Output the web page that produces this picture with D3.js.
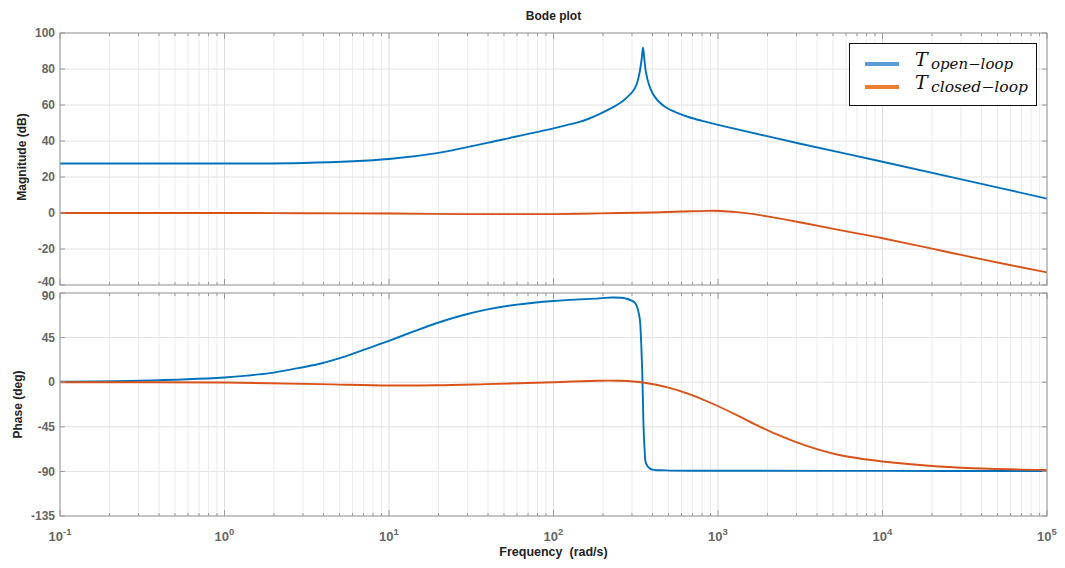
<!DOCTYPE html>
<html>
<head>
<meta charset="utf-8">
<script src="https://cdn.jsdelivr.net/npm/d3@7"></script>
<style>
  html, body { margin: 0; padding: 0; background: #fff; }
  svg { display: block; }
</style>
</head>
<body>
<svg id="chart" width="1065" height="568"></svg>
<script>
// ---------------- DATA ----------------
const title = "Bode plot";
const xLabel = "Frequency  (rad/s)";
const magLabel = "Magnitude (dB)";
const phaseLabel = "Phase (deg)";
const seriesNames = ["open\u2212loop", "closed\u2212loop"];

const xDecades = [-1, 0, 1, 2, 3, 4, 5];
const magTicks = [-40, -20, 0, 20, 40, 60, 80, 100];
const phaseTicks = [-135, -90, -45, 0, 45, 90];

// Open-loop magnitude (dB)
const wMagOpen = [0.1, 0.3, 1, 3, 10, 20, 50, 100, 120, 144, 165, 190, 220, 251, 274, 303, 320, 332, 343, 350, 357, 365, 380, 400, 430, 483, 560, 668, 800, 1000, 3162, 10000, 31623, 100000];
const magOpen  = [27.5, 27.5, 27.5, 27.8, 30.0, 33.4, 41.0, 47.0, 48.8, 50.6, 52.5, 54.9, 57.8, 60.8, 63.5, 67.5, 71.5, 77, 85, 92, 85, 78, 71.5, 66.5, 62.5, 58.6, 55.8, 53.2, 51.2, 49, 38.5, 28.5, 18.3, 8];

// Closed-loop magnitude (dB)
const wMagClosed = [0.1, 1, 3, 10, 30, 100, 190, 400, 600, 850, 1050, 1300, 1600, 2000, 2490, 3500, 4940, 7000, 10000, 20000, 40400, 100000];
const magClosed  = [0, 0, -0.1, -0.3, -0.6, -0.6, -0.2, 0.3, 0.8, 1.2, 1.15, 0.5, -0.5, -1.9, -3.4, -6.0, -8.7, -11.3, -14.0, -19.8, -25.8, -33];

// Open-loop phase (deg)
const wPhOpen = [0.1, 0.3, 1, 1.4, 1.88, 2.6, 3.8, 4.8, 6, 8, 10, 14, 19.4, 27, 39, 60, 100, 190, 230, 274, 313, 333, 340, 347, 352, 358, 365, 387, 483, 1000, 10000, 100000];
const phOpen  = [0.5, 1.5, 4.8, 6.8, 9.2, 13.2, 18.6, 23.2, 28.6, 36, 41.8, 51, 59.5, 66.8, 73.2, 78.3, 82, 84.6, 85.5, 84.5, 80, 66, 45, 5, -40, -68, -82, -87.5, -89, -89.3, -89.5, -89.7];

// Closed-loop phase (deg)
const wPhClosed = [0.1, 1, 3.8, 10, 19.4, 39, 100, 190, 250, 350, 500, 668, 935, 1330, 1800, 2500, 3420, 5460, 10000, 22000, 44400, 100000];
const phClosed  = [0, -0.3, -1.9, -3.3, -3.1, -1.9, 0, 1.5, 1.4, -0.3, -5.5, -12, -22, -34, -45, -55.5, -64, -73.5, -80, -85, -87.3, -88.5];

// ---------------- LAYOUT ----------------
const svg = d3.select("#chart");
const L = 60, R = 1047;
const magTop = 33, magBot = 285;
const phTop = 293, phBot = 516;
const colOpen = "#0072BD", colClosed = "#D95319";
const legOpen = "#5B9BD5", legClosed = "#ED7D31";
const frameCol = "#9a9a9a";
const tickFont = "'Liberation Sans', Arial, sans-serif";

const x = d3.scaleLog().domain([0.1, 1e5]).range([L, R]);
const yMag = d3.scaleLinear().domain([-40, 100]).range([magBot, magTop]);
const yPh = d3.scaleLinear().domain([-135, 90]).range([phBot, phTop]);

const minorVals = [];
for (const d of xDecades.slice(0, -1)) {
  for (let k = 2; k <= 9; k++) minorVals.push(k * Math.pow(10, d));
}
const majorVals = xDecades.map(d => Math.pow(10, d));

function panel(y, top, bot, ticks, data, labelShift) {
  const g = svg.append("g");
  g.selectAll(null).data(minorVals).enter().append("line")
    .attr("x1", d => x(d)).attr("x2", d => x(d))
    .attr("y1", top).attr("y2", bot)
    .attr("stroke", "#ececec").attr("stroke-width", 1);
  g.selectAll(null).data(majorVals).enter().append("line")
    .attr("x1", d => x(d)).attr("x2", d => x(d))
    .attr("y1", top).attr("y2", bot)
    .attr("stroke", "#dedede").attr("stroke-width", 1);
  g.selectAll(null).data(ticks).enter().append("line")
    .attr("x1", L).attr("x2", R)
    .attr("y1", d => y(d)).attr("y2", d => y(d))
    .attr("stroke", "#e2e2e2").attr("stroke-width", 1);

  const clipId = "clip" + top;
  svg.append("clipPath").attr("id", clipId).append("rect")
    .attr("x", L).attr("y", top).attr("width", R - L).attr("height", bot - top);
  const line = d3.line().x(p => x(p[0])).y(p => y(p[1])).curve(d3.curveCatmullRom.alpha(0.5));
  data.forEach(s => {
    g.append("path")
      .attr("d", line(s.w.map((w, i) => [w, s.v[i]])))
      .attr("fill", "none").attr("stroke", s.color).attr("stroke-width", 1.9)
      .attr("stroke-linejoin", "round")
      .attr("clip-path", `url(#${clipId})`);
  });

  const tk = (vals, len) => {
    g.selectAll(null).data(vals).enter().append("line")
      .attr("x1", d => x(d)).attr("x2", d => x(d))
      .attr("y1", bot).attr("y2", bot - len)
      .attr("stroke", frameCol);
    g.selectAll(null).data(vals).enter().append("line")
      .attr("x1", d => x(d)).attr("x2", d => x(d))
      .attr("y1", top).attr("y2", top + len)
      .attr("stroke", frameCol);
  };
  tk(minorVals, 3);
  tk(majorVals, 6);
  g.selectAll(null).data(ticks).enter().append("line")
    .attr("x1", L).attr("x2", L + 5).attr("y1", d => y(d)).attr("y2", d => y(d))
    .attr("stroke", frameCol);
  g.selectAll(null).data(ticks).enter().append("line")
    .attr("x1", R).attr("x2", R - 5).attr("y1", d => y(d)).attr("y2", d => y(d))
    .attr("stroke", frameCol);

  g.append("rect").attr("x", L).attr("y", top).attr("width", R - L).attr("height", bot - top)
    .attr("fill", "none").attr("stroke", frameCol).attr("stroke-width", 1);

  g.selectAll(null).data(ticks).enter().append("text")
    .attr("x", L - 5).attr("y", d => y(d) + labelShift(d)).attr("dy", "0.35em")
    .attr("text-anchor", "end")
    .attr("font-family", tickFont).attr("font-size", 12).attr("font-weight", "bold")
    .attr("fill", "#666")
    .text(d => d);
}

panel(yMag, magTop, magBot, magTicks, [
  { w: wMagOpen, v: magOpen, color: colOpen },
  { w: wMagClosed, v: magClosed, color: colClosed }
], d => (d === -40 ? -3 : 0));
panel(yPh, phTop, phBot, phaseTicks, [
  { w: wPhOpen, v: phOpen, color: colOpen },
  { w: wPhClosed, v: phClosed, color: colClosed }
], d => (d === 90 ? 3 : 0));

xDecades.forEach(d => {
  const t = svg.append("text")
    .attr("x", x(Math.pow(10, d)))
    .attr("y", 541)
    .attr("text-anchor", "middle")
    .attr("font-family", tickFont).attr("font-size", 13).attr("font-weight", "bold")
    .attr("fill", "#666");
  t.append("tspan").text("10");
  t.append("tspan").attr("font-size", 9.5).attr("dy", -6).text(d);
});

svg.append("text").attr("x", (L + R) / 2).attr("y", 20).attr("text-anchor", "middle")
  .attr("font-family", tickFont).attr("font-size", 12).attr("font-weight", "bold").attr("fill", "#222")
  .text(title);
svg.append("text").attr("x", (L + R) / 2).attr("y", 556).attr("text-anchor", "middle")
  .attr("font-family", tickFont).attr("font-size", 12.5).attr("font-weight", "bold").attr("fill", "#222")
  .attr("xml:space", "preserve").style("white-space", "pre")
  .text(xLabel);
svg.append("text").attr("transform", `translate(26,${(magTop + magBot) / 2 - 2}) rotate(-90)`)
  .attr("text-anchor", "middle")
  .attr("font-family", tickFont).attr("font-size", 12).attr("font-weight", "bold").attr("fill", "#222")
  .text(magLabel);
svg.append("text").attr("transform", `translate(22,${(phTop + phBot) / 2}) rotate(-90)`)
  .attr("text-anchor", "middle")
  .attr("font-family", tickFont).attr("font-size", 12).attr("font-weight", "bold").attr("fill", "#222")
  .text(phaseLabel);

// legend
const lg = svg.append("g");
lg.append("rect").attr("x", 849.5).attr("y", 43.5).attr("width", 187).attr("height", 62)
  .attr("fill", "#fff").attr("stroke", "#111").attr("stroke-width", 1);
const legCols = [legOpen, legClosed];
const legY = [64, 87];
const subLen = [82, 97];
seriesNames.forEach((name, i) => {
  lg.append("line").attr("x1", 865).attr("x2", 899).attr("y1", legY[i]).attr("y2", legY[i])
    .attr("stroke", legCols[i]).attr("stroke-width", 4);
  lg.append("text").attr("x", 915).attr("y", legY[i] + 2)
    .attr("font-family", "'DejaVu Serif', 'Liberation Serif', serif")
    .attr("font-style", "italic").attr("font-size", 19).attr("fill", "#111")
    .text("T");
  lg.append("text").attr("x", 931).attr("y", legY[i] + 5)
    .attr("font-family", "'DejaVu Serif', 'Liberation Serif', serif")
    .attr("font-style", "italic").attr("font-size", 14.5).attr("fill", "#111")
    .attr("textLength", subLen[i]).attr("lengthAdjust", "spacingAndGlyphs")
    .text(name);
});
</script>
</body>
</html>
